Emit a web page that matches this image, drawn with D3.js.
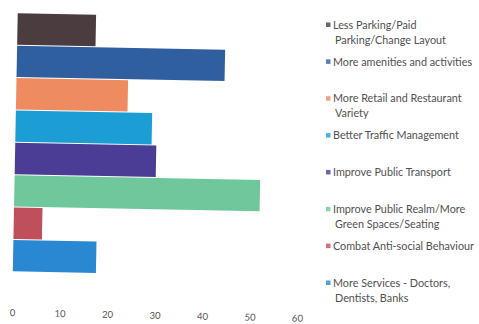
<!DOCTYPE html>
<html>
<head>
<meta charset="utf-8">
<title>Improvements</title>
<script src="https://cdn.jsdelivr.net/npm/d3@7"></script>
<style>
  body { margin: 0; background: #fff; }
  svg { display: block; }
  .tick text { font-family: Lato, "Open Sans", sans-serif; font-size: 9.5px; fill: #555; }
  .legend text { font-family: Lato, "Open Sans", sans-serif; font-size: 10.8px; fill: #505050; }
</style>
</head>
<body>
<script>
// categories, top to bottom
var categories = [
  "Less Parking/Paid Parking/Change Layout",
  "More amenities and activities",
  "More Retail and Restaurant Variety",
  "Better Traffic Management",
  "Improve Public Transport",
  "Improve Public Realm/More Green Spaces/Seating",
  "Combat Anti-social Behaviour",
  "More Services - Doctors, Dentists, Banks"
];
// legend text split in lines as in the picture
var legendLines = [
  ["Less Parking/Paid", "Parking/Change Layout"],
  ["More amenities and activities"],
  ["More Retail and Restaurant", "Variety"],
  ["Better Traffic Management"],
  ["Improve Public Transport"],
  ["Improve Public Realm/More", "Green Spaces/Seating"],
  ["Combat Anti-social Behaviour"],
  ["More Services - Doctors,", "Dentists, Banks"]
];
var values = [16.5, 43.8, 23.5, 28.7, 29.7, 51.7, 6, 17.5];
var colors = ["#4b3c40", "#2f5f9e", "#ee8b60", "#1c9ed4", "#4b3d95", "#6ec89c", "#c04f5c", "#2a88d2"];
var xTicks = [0, 10, 20, 30, 40, 50, 60];

var width = 479, height = 324;

var svg = d3.select("body").append("svg")
  .attr("width", width)
  .attr("height", height);

// the scan is a little tilted, so the plot is turned a bit
var plot = svg.append("g").attr("transform", "rotate(1.1)");

var x = d3.scaleLinear().domain([0, 60]).range([18, 303]);
var y = d3.scaleBand().domain(categories).range([13, 271]).paddingInner(0.03);

plot.selectAll("rect")
  .data(categories)
  .enter()
  .append("rect")
  .attr("x", x(0))
  .attr("y", function(d){ return y(d); })
  .attr("width", function(d, i){ return x(values[i]) - x(0); })
  .attr("height", y.bandwidth())
  .attr("fill", function(d, i){ return colors[i]; });

var axis = plot.append("g")
  .attr("transform", "translate(0,309)")
  .call(d3.axisBottom(x).tickValues(xTicks).tickSize(0).tickPadding(0));
axis.select(".domain").remove();
axis.selectAll("text").attr("dy", "0.71em");

// legend
var legend = svg.append("g").attr("class", "legend");
var entryY = d3.scaleLinear().domain([0, 7]).range([25, 283]);

legendLines.forEach(function(lines, i){
  var g = legend.append("g").attr("transform", "translate(0," + entryY(i) + ")");
  g.append("rect")
    .attr("x", 326)
    .attr("y", -2.5)
    .attr("width", 4.5)
    .attr("height", 4.5)
    .attr("fill", colors[i])
    .attr("opacity", 0.8);
  lines.forEach(function(t, j){
    g.append("text")
      .attr("x", j == 0 ? 333 : 335)
      .attr("y", j * 15)
      .attr("dy", "0.35em")
      .text(t);
  });
});
</script>
</body>
</html>
